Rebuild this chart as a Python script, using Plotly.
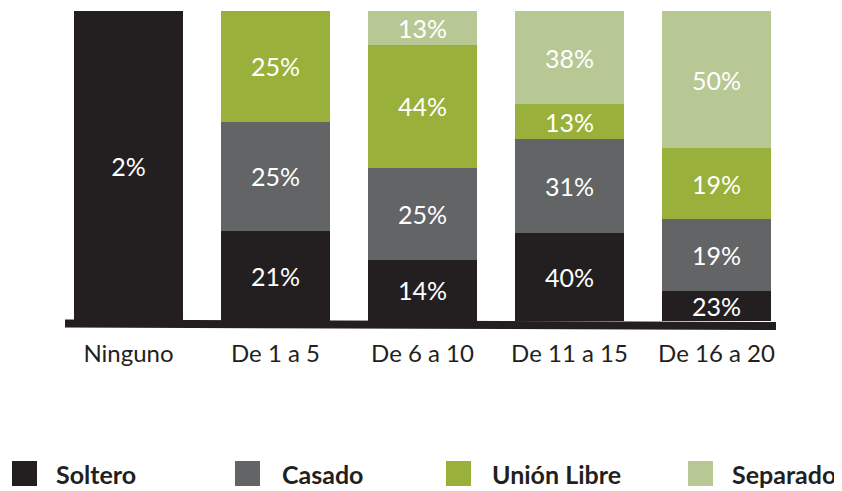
import plotly.graph_objects as go

categories = ["Ninguno", "De 1 a 5", "De 6 a 10", "De 11 a 15", "De 16 a 20"]
series_names = ["Soltero", "Casado", "Unión Libre", "Separado"]
colors = ["#231f20", "#636466", "#99b13b", "#b8c895"]

# segment heights as drawn (share of bar height, %)
soltero = [100, 29.1, 19.7, 28.4, 9.7]
casado = [None, 35.1, 29.8, 30.3, 23.2]
union_libre = [None, 35.8, 39.6, 11.3, 22.9]
separado = [None, None, 11.0, 30.0, 44.2]

# printed labels
soltero_labels = ["2%", "21%", "14%", "40%", "23%"]
casado_labels = ["", "25%", "25%", "31%", "19%"]
union_labels = ["", "25%", "44%", "13%", "19%"]
separado_labels = ["", "", "13%", "38%", "50%"]

values = [soltero, casado, union_libre, separado]
labels = [soltero_labels, casado_labels, union_labels, separado_labels]

# page has an 8px body margin; size the figure so it fills the window
OFF = 8
W, H = 842 - OFF, 491 - OFF
ML, MT = 55 - OFF, 11 - OFF
PW, PH = 735, 310
MR, MB = W - ML - PW, H - MT - PH


def px_x(px):
    return (px - OFF - ML) / PW


def px_y(py):
    return (MT + PH - (py - OFF)) / PH


fig = go.Figure()
for name, vals, labs, col in zip(series_names, values, labels, colors):
    fig.add_trace(go.Bar(
        name=name, x=categories, y=vals, text=labs,
        marker=dict(color=col, line=dict(width=0)),
        textposition="inside", insidetextanchor="middle", textangle=0,
        textfont=dict(family="Lato", size=25, color="white"),
        showlegend=False, hoverinfo="skip",
    ))

shapes = [
    # baseline
    dict(type="line", xref="paper", yref="paper",
         x0=px_x(65), x1=px_x(776), y0=px_y(323.5), y1=px_y(326),
         line=dict(color="#231f20", width=8), layer="above"),
]
annotations = []
sq_left = [12, 235, 446, 688]
txt_left = [54, 280, 490, 730]
for name, col, sx, tx in zip(series_names, colors, sq_left, txt_left):
    shapes.append(dict(type="rect", xref="paper", yref="paper",
                       x0=px_x(sx), x1=px_x(sx + 25), y0=px_y(486), y1=px_y(461),
                       fillcolor=col, line=dict(width=0)))
    annotations.append(dict(xref="paper", yref="paper", x=px_x(tx), y=px_y(474),
                            xanchor="left", yanchor="middle", showarrow=False,
                            text=name,
                            font=dict(family="Lato", size=25, color="#231f20", weight=700)))

fig.update_layout(
    width=W, height=H,
    margin=dict(l=ML, r=MR, t=MT, b=MB, pad=0),
    barmode="stack", bargap=0.259,
    plot_bgcolor="white", paper_bgcolor="white",
    showlegend=False,
    uniformtext=dict(minsize=25, mode="show"),
    xaxis=dict(showline=False, showgrid=False, zeroline=False,
               ticks="outside", ticklen=11, tickcolor="rgba(0,0,0,0)",
               tickfont=dict(family="Lato", size=24, color="#231f20")),
    yaxis=dict(visible=False, range=[0, 100]),
    shapes=shapes, annotations=annotations,
)

fig.write_html("out.html")
